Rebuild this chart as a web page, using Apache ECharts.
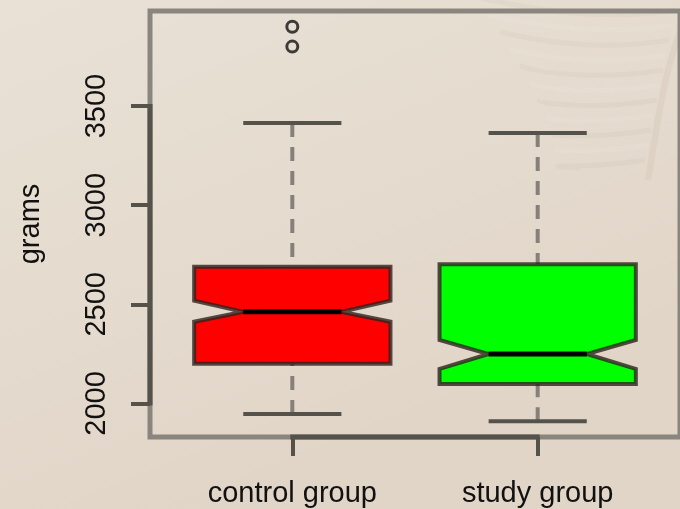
<!DOCTYPE html>
<html>
<head>
<meta charset="utf-8">
<script src="https://cdn.jsdelivr.net/npm/echarts@6/dist/echarts.min.js"></script>
<style>
  html, body { margin: 0; padding: 0; background: #e6ddd1; }
  #chart { width: 680px; height: 509px; }
</style>
</head>
<body>
<div id="chart"></div>
<script>
// Birth weight (grams) by group, drawn as notched box plots.
const categories = ['control group', 'study group'];
const lowerWhisker = [1947, 1910];
const lowerQuartile = [2200, 2098];
const notchLow = [2412, 2174];
const medians = [2462, 2249];
const notchHigh = [2518, 2320];
const upperQuartile = [2689, 2702];
const upperWhisker = [3415, 3364];
// outliers: group number (1-based) and value
const outlierGroup = [1, 1];
const outlierValues = [3800, 3900];
const yTicks = [2000, 2500, 3000, 3500];
const yAxisTitle = 'grams';

const boxColors = ['#ff0000', '#00ff00'];
const FONT = '"Liberation Sans", Arial, Helvetica, sans-serif';
const FRAME = '#8a857e';
const AXIS = '#55514b';

// value range padded by 4% on each side, like base R graphics
const allValues = lowerWhisker.concat(upperWhisker, outlierValues);
const vMin = Math.min(...allValues), vMax = Math.max(...allValues);
const pad = (vMax - vMin) * 0.04;
const yMin = vMin - pad, yMax = vMax + pad;
const xMin = 0.5 - 0.08, xMax = categories.length + 0.5 + 0.08;

const boxData = categories.map((c, i) => [
  i + 1, lowerWhisker[i], lowerQuartile[i], notchLow[i], medians[i],
  notchHigh[i], upperQuartile[i], upperWhisker[i]
]);
const outlierData = outlierGroup.map((g, i) => [g, outlierValues[i]]);

function renderBox(params, api) {
  const gx = api.value(0);
  const y = k => api.coord([gx, api.value(k)])[1];
  const cx = api.coord([gx, yMin])[0];
  const hw = api.size([0.8, 0])[0] / 2;   // half box width
  const qw = hw / 2;                      // notch waist / staple half width
  const yLo = y(1), yQ1 = y(2), yNl = y(3), yMed = y(4), yNh = y(5), yQ3 = y(6), yHi = y(7);
  const dash = { stroke: '#85807a', lineWidth: 4, lineDash: [14, 10] };
  const cap = { stroke: AXIS, lineWidth: 4 };
  return {
    type: 'group',
    children: [
      { type: 'line', shape: { x1: cx, y1: yHi, x2: cx, y2: yQ3 }, style: dash },
      { type: 'line', shape: { x1: cx, y1: yLo, x2: cx, y2: yQ1 }, style: dash },
      { type: 'line', shape: { x1: cx - qw, y1: yHi, x2: cx + qw, y2: yHi }, style: cap },
      { type: 'line', shape: { x1: cx - qw, y1: yLo, x2: cx + qw, y2: yLo }, style: cap },
      {
        type: 'polygon',
        shape: { points: [
          [cx - hw, yQ3], [cx - hw, yNh], [cx - qw, yMed], [cx - hw, yNl], [cx - hw, yQ1],
          [cx + hw, yQ1], [cx + hw, yNl], [cx + qw, yMed], [cx + hw, yNh], [cx + hw, yQ3]
        ] },
        style: { fill: boxColors[params.dataIndex], stroke: 'rgba(45,35,30,0.8)', lineWidth: 4, lineJoin: 'miter' }
      },
      { type: 'line', shape: { x1: cx - qw, y1: yMed, x2: cx + qw, y2: yMed },
        style: { stroke: '#000', lineWidth: 5 } }
    ]
  };
}

// darker axis lines running between the outer ticks, on top of the frame
function renderAxes(params, api) {
  const left = api.coord([xMin, yTicks[0]]);
  const leftTop = api.coord([xMin, yTicks[yTicks.length - 1]]);
  const b1 = api.coord([1, yMin]);
  const b2 = api.coord([categories.length, yMin]);
  const st = { stroke: AXIS, lineWidth: 5 };
  return {
    type: 'group',
    children: [
      { type: 'line', shape: { x1: left[0], y1: left[1] + 2, x2: leftTop[0], y2: leftTop[1] - 2 }, style: st },
      { type: 'line', shape: { x1: b1[0] - 2, y1: b1[1], x2: b2[0] + 2, y2: b2[1] }, style: st }
    ]
  };
}

// faint feather sketch in the paper texture
const feather = [];
feather.push({
  type: 'bezierCurve', silent: true, z: -10,
  shape: { x1: 700, y1: -10, cpx1: 665, cpy1: 50, cpx2: 660, cpy2: 110, x2: 648, y2: 180 },
  style: { stroke: 'rgba(150,128,118,0.08)', lineWidth: 6, shadowBlur: 8, shadowColor: 'rgba(150,128,118,0.15)' }
});
for (let k = 0; k < 11; k++) {
  const sy = 10 + k * 15;
  const sx = 675 - k * 3;
  feather.push({
    type: 'bezierCurve', silent: true, z: -10,
    shape: { x1: sx, y1: sy, cpx1: sx - 60, cpy1: sy + 10, cpx2: sx - 120, cpy2: sy + 4,
             x2: 480 + k * 10, y2: sy - 12 + k * 2 },
    style: { stroke: k % 2 ? 'rgba(250,240,235,0.12)' : 'rgba(150,128,118,0.06)', lineWidth: 5,
             shadowBlur: 8, shadowColor: 'rgba(150,128,118,0.08)' }
  });
}

const chart = echarts.init(document.getElementById('chart'), null, { renderer: 'canvas' });
chart.setOption({
  animation: false,
  backgroundColor: {
    type: 'linear', x: 0, y: 0, x2: 0.3, y2: 1,
    colorStops: [
      { offset: 0, color: '#e9e1d6' },
      { offset: 0.5, color: '#e5dccf' },
      { offset: 1, color: '#e1d5c7' }
    ]
  },
  graphic: feather,
  grid: {
    left: 150, top: 11, width: 536, height: 426,
    show: true, borderColor: FRAME, borderWidth: 5, backgroundColor: 'transparent'
  },
  xAxis: {
    type: 'value', min: xMin, max: xMax,
    axisLine: { show: false },
    splitLine: { show: false },
    axisTick: { show: true, customValues: categories.map((c, i) => i + 1), length: 19,
                lineStyle: { color: AXIS, width: 4 } },
    axisLabel: { customValues: categories.map((c, i) => i + 1), margin: 42,
                 formatter: v => categories[Math.round(v) - 1],
                 fontSize: 29, fontFamily: FONT, color: '#111' }
  },
  yAxis: {
    type: 'value', min: yMin, max: yMax,
    name: yAxisTitle, nameLocation: 'middle', nameRotate: 90, nameGap: 105,
    nameTextStyle: { fontSize: 29, fontFamily: FONT, color: '#111' },
    axisLine: { show: false },
    splitLine: { show: false },
    axisTick: { show: true, customValues: yTicks, length: 19, lineStyle: { color: AXIS, width: 4 } },
    axisLabel: { customValues: yTicks, rotate: 90, margin: 39,
                 formatter: v => String(v),
                 fontSize: 29, fontFamily: FONT, color: '#111' }
  },
  series: [
    { type: 'custom', name: 'box', data: boxData, renderItem: renderBox,
      encode: { x: 0, y: [1, 2, 3, 4, 5, 6, 7] }, clip: false, z: 3 },
    { type: 'scatter', name: 'outliers', data: outlierData, symbol: 'circle', symbolSize: 11,
      itemStyle: { color: 'rgba(0,0,0,0)', borderColor: '#111', borderWidth: 3 }, z: 4 },
    { type: 'custom', name: 'axes', data: [[0]], renderItem: renderAxes,
      encode: { x: 0 }, clip: false, z: 2, silent: true }
  ]
});
</script>
</body>
</html>
